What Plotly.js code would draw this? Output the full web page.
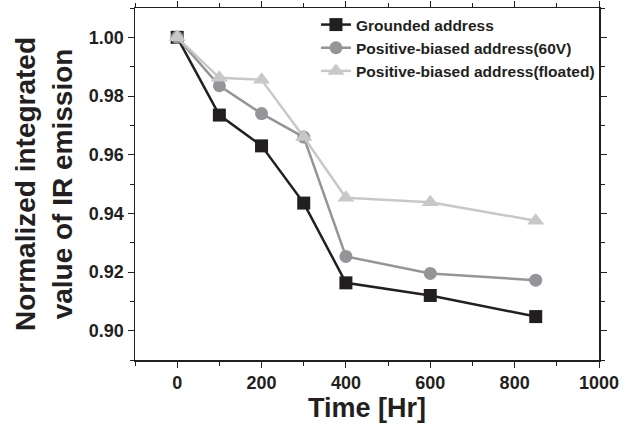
<!DOCTYPE html>
<html>
<head>
<script src="https://cdn.plot.ly/plotly-3.0.1.min.js"></script>
<style>body{margin:0;padding:0;background:#fff}#chart{width:630px;height:427px}</style>
</head>
<body>
<div id="chart"></div>
<script>
const time = [0, 100, 200, 300, 400, 600, 850];
const grounded = [1.000, 0.9735, 0.963, 0.9435, 0.9163, 0.9120, 0.9048];
const biased60V = [1.000, 0.9835, 0.9740, 0.9660, 0.9253, 0.9195, 0.9172];
const floated = [1.000, 0.9862, 0.9855, 0.9660, 0.9453, 0.9438, 0.9375];
const seriesNames = ['Grounded address', 'Positive-biased address(60V)', 'Positive-biased address(floated)'];
const xTicks = [0, 200, 400, 600, 800, 1000];
const yTicks = [0.90, 0.92, 0.94, 0.96, 0.98, 1.00];

const font = 'Liberation Sans, Arial, sans-serif';
const ink = '#231f20';
const traces = [
  {x: time, y: grounded, name: seriesNames[0], mode: 'lines+markers',
   line: {color: ink, width: 2.5}, marker: {symbol: 'square', size: 13, color: ink}},
  {x: time, y: biased60V, name: seriesNames[1], mode: 'lines+markers',
   line: {color: '#939598', width: 2.5}, marker: {symbol: 'circle', size: 13, color: '#939598'}},
  {x: time, y: floated, name: seriesNames[2], mode: 'lines+markers',
   line: {color: '#c7c8ca', width: 2.5}, marker: {symbol: 'triangle-up', size: 15, color: '#c7c8ca'}}
];
const layout = {
  width: 630, height: 427,
  margin: {l: 135, r: 31, t: 8, b: 67},
  paper_bgcolor: '#fff', plot_bgcolor: '#fff',
  font: {family: font, color: ink},
  showlegend: true,
  legend: {x: 0.39, y: 1.0, xanchor: 'left', yanchor: 'top', bgcolor: 'rgba(0,0,0,0)',
           font: {family: font, size: 15.5, color: ink, weight: 'bold'}, itemwidth: 30},
  xaxis: {range: [-100, 1000], tickvals: xTicks, ticktext: xTicks.map(String),
          ticks: 'outside', ticklen: 6, tickwidth: 1, tickcolor: ink,
          showline: true, linecolor: ink, linewidth: 1.5, mirror: 'allticks',
          showgrid: false, zeroline: false,
          minor: {tickvals: [-100, 100, 300, 500, 700, 900], ticks: 'outside', ticklen: 4, tickcolor: ink, showgrid: false},
          tickfont: {family: font, size: 18, weight: 'bold', color: ink},
          title: {text: 'Time [Hr]', font: {family: font, size: 27, weight: 'bold', color: ink}, standoff: 4}},
  yaxis: {range: [0.89, 1.01], tickvals: yTicks, ticktext: yTicks.map(v => v.toFixed(2)),
          ticks: 'outside', ticklen: 6, tickwidth: 1, tickcolor: ink,
          showline: true, linecolor: ink, linewidth: 1.5, mirror: 'allticks',
          showgrid: false, zeroline: false,
          minor: {tickvals: [0.89, 0.91, 0.93, 0.95, 0.97, 0.99, 1.01], ticks: 'outside', ticklen: 4, tickcolor: ink, showgrid: false},
          tickfont: {family: font, size: 18, weight: 'bold', color: ink},
          title: {text: 'Normalized integrated<br>value of IR emission', font: {family: font, size: 28, weight: 'bold', color: ink}, standoff: 8}}
};
Plotly.newPlot('chart', traces, layout, {displayModeBar: false, staticPlot: true});
</script>
</body>
</html>
